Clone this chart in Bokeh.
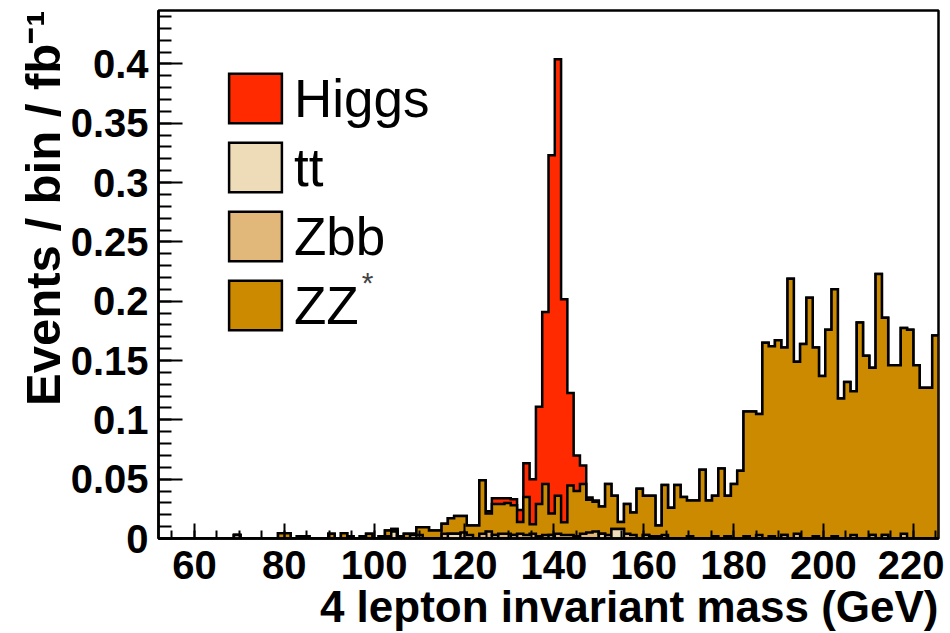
import numpy as np
from bokeh.plotting import figure
from bokeh.models import (Range1d, FixedTicker, CustomJSTickFormatter, Legend,
                          LegendItem, Label, Title)
from bokeh.embed import file_html
from bokeh.resources import INLINE

# ---------------- data (events / bin / fb^-1) ----------------
x_lo = 52.0
bin_width = 1.4
n_bins = 124

higgs = [0, 0, 0, 0, 0, 0, 0, 0, 0, 0,
         0, 0, 0, 0, 0, 0, 0, 0, 0, 0,
         0, 0, 0, 0, 0, 0, 0, 0, 0, 0,
         0, 0, 0, 0, 0, 0, 0, 0, 0, 0,
         0, 0, 0, 0, 0, 0, 0, 0, 0, 0,
         0, 0, .002, .005, .005, .004, .005, .010, .0285, .038,
         .082, .145, .302, .368, .188, .078, .030, .0155, .002, .001,
         0, 0, 0, 0, 0, 0, 0, 0, 0, 0,
         0, 0, 0, 0, 0, 0, 0, 0, 0, 0,
         0, 0, 0, 0, 0, 0, 0, 0, 0, 0,
         0, 0, 0, 0, 0, 0, 0, 0, 0, 0,
         0, 0, 0, 0, 0, 0, 0, 0, 0, 0,
         0, 0, 0, 0]

tt = [0, 0, 0, 0, 0, 0, 0, 0, 0, 0,
      0, 0, .003, 0, 0, 0, 0, 0, 0, 0,
      0, 0, 0, 0, 0, 0, 0, 0, 0, 0,
      0, 0, 0, 0, 0, 0, 0, .006, 0, 0,
      .003, 0, 0, 0, 0, 0, .004, .004, 0, 0,
      0, 0, 0, .003, 0, 0, .003, 0, 0, 0,
      .002, 0, .003, 0, 0, 0, .002, 0, 0, 0,
      .004, 0, .008, .008, 0, 0, 0, .003, 0, .002,
      0, 0, 0, 0, 0, 0, 0, 0, 0, 0,
      .002, 0, 0, 0, 0, 0, 0, 0, 0, .003,
      0, 0, 0, 0, 0, 0, 0, 0, 0, 0,
      0, 0, 0, .003, 0, .003, 0, 0, 0, 0,
      0, 0, 0, 0]

zbb = [0, 0, 0, 0, 0, 0, 0, 0, 0, 0,
       0, 0, 0, 0, 0, 0, 0, 0, 0, 0,
       0, 0, 0, 0, 0, 0, 0, 0, 0, 0,
       0, 0, 0, 0, 0, 0, .002, 0, 0, 0,
       0, .003, 0, 0, 0, .004, 0, 0, .005, .003,
       0, .004, .006, 0, .004, .004, 0, .004, .003, .004,
       0, .003, 0, .004, .003, .003, 0, .004, .005, .006,
       0, .003, 0, 0, .004, .003, 0, 0, .002, 0,
       .003, 0, 0, 0, .002, 0, 0, 0, .002, 0,
       0, 0, 0, .002, 0, .003, 0, .002, 0, 0,
       0, .004, 0, 0, .002, 0, 0, .002, 0, 0,
       .003, 0, 0, 0, 0, 0, 0, 0, .004, 0,
       0, 0, 0, 0]

zz = [0, 0, 0, 0, 0, 0, 0, 0, 0, 0,
      0, 0, 0, 0, 0, 0, 0, 0, 0, .0045,
      .0045, 0, .002, .002, 0, 0, 0, .004, 0, .0045,
      .002, 0, .002, .004, 0, .002, .0047, .002, .002, .004,
      .001, .0065, .0095, .0067, .0067, .0085, .013, .015, .014, .008,
      .011, .045, .015, .026, .025, .026, .025, .010, .032, .008,
      .027, .043, .018, .032, .0107, .0417, .038, .042, .0276, .025,
      .023, .043, .028, .006, .025, .019, .042, .033, .034, .009,
      .042, .026, .045, .035, .030, .032, .058, .032, .034, .059,
      .034, .046, .057, .105, .107, .102, .165, .160, .167, .158,
      .219, .145, .164, .203, .159, .137, .176, .208, .118, .132,
      .121, .182, .154, .141, .223, .183, .146, .146, .1735, .176,
      .146, .127, .127, .171]

labels = ["Higgs", "tt", "Zbb", "ZZ"]
colors = {"Higgs": "#ff2a00", "tt": "#eedcb8", "Zbb": "#e2b87a", "ZZ": "#cc8a00"}

x_ticks = [60, 80, 100, 120, 140, 160, 180, 200, 220]
x_minor = list(range(55, 230, 5))
y_ticks = [0, 0.05, 0.1, 0.15, 0.2, 0.25, 0.3, 0.35, 0.4]
y_minor = [k / 100 for k in range(0, 45)]

# ---------------- figure ----------------
x_hi = x_lo + bin_width * n_bins
p = figure(width=944, height=632, x_range=Range1d(x_lo, x_hi), y_range=Range1d(0, 0.445),
           output_backend="svg", toolbar_location=None, title=None,
           min_border_left=158, min_border_right=6, min_border_top=10, min_border_bottom=94)
p.xgrid.visible = False
p.ygrid.visible = False
p.outline_line_color = "black"
p.outline_line_width = 2.5
p.background_fill_color = "white"
p.border_fill_color = "white"

edges = x_lo + bin_width * np.arange(n_bins + 1)


def step_poly(vals):
    xs = [edges[0]]
    ys = [0.0]
    for i, v in enumerate(vals):
        xs += [edges[i], edges[i + 1]]
        ys += [v, v]
    xs.append(edges[-1])
    ys.append(0.0)
    return xs, ys


# stack bottom -> top: tt, Zbb, ZZ, Higgs
c_tt = np.array(tt)
c_zbb = c_tt + np.array(zbb)
c_zz = c_zbb + np.array(zz)
c_h = c_zz + np.array(higgs)

renderers = {}
for name, cum in [("Higgs", c_h), ("ZZ", c_zz), ("Zbb", c_zbb), ("tt", c_tt)]:
    xs, ys = step_poly(cum)
    renderers[name] = p.patch(xs, ys, fill_color=colors[name], line_color="black",
                              line_width=2.5, line_join="miter")

FONT = "Liberation Sans"

# axes
xa = p.xaxis[0]
xa.ticker = FixedTicker(ticks=x_ticks, minor_ticks=x_minor)
ya = p.yaxis[0]
ya.ticker = FixedTicker(ticks=y_ticks, minor_ticks=y_minor)
ya.formatter = CustomJSTickFormatter(code="return String(Math.round(tick*100)/100);")
for ax in (xa, ya):
    ax.axis_line_width = 2.5
    ax.axis_line_color = "black"
    ax.major_tick_out = 0
    ax.minor_tick_out = 0
    ax.major_tick_line_width = 2
    ax.minor_tick_line_width = 2
    ax.major_tick_line_color = "black"
    ax.minor_tick_line_color = "black"
    ax.major_label_text_font = FONT
    ax.major_label_text_font_style = "bold"
    ax.major_label_text_font_size = "40px"
    ax.major_label_text_color = "black"
xa.major_tick_in = 15
xa.minor_tick_in = 8
xa.major_label_standoff = 12
ya.major_tick_in = 24
ya.minor_tick_in = 13
ya.major_label_standoff = 10

# axis titles (as side titles so they sit outside the frame)
p.add_layout(Title(text="4 lepton invariant mass (GeV)", align="right", standoff=-4,
                   text_font=FONT, text_font_style="bold", text_font_size="44px",
                   text_color="black"), "below")
p.add_layout(Title(text="Events / bin / fb\u207b\u00b9", align="right", standoff=-4,
                   text_font=FONT, text_font_style="bold", text_font_size="49px",
                   text_color="black"), "left")

# legend
items = [LegendItem(label=n, renderers=[renderers[n]]) for n in labels]
legend = Legend(items=items, location=(64, 202), glyph_width=66, glyph_height=62,
                label_height=62, spacing=7, label_standoff=6, padding=0, margin=0,
                border_line_alpha=0, background_fill_alpha=0,
                label_text_font=FONT, label_text_font_size="53px", label_text_color="black")
p.add_layout(legend)

p.add_layout(Label(x=209, y=256, x_units="screen", y_units="screen", text="*",
                   text_font=FONT, text_font_size="30px", text_align="center",
                   text_baseline="middle"))

open("out.html", "w").write(file_html(p, INLINE))
